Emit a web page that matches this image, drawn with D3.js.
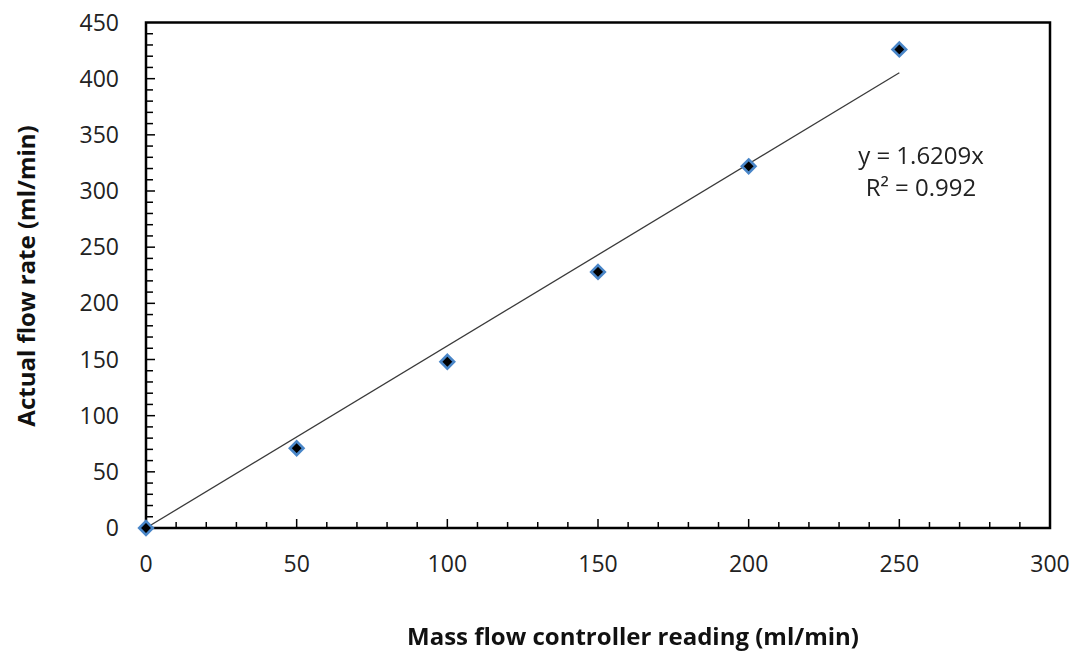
<!DOCTYPE html>
<html>
<head>
<meta charset="utf-8">
<script src="https://d3js.org/d3.v7.min.js"></script>
<style>
  html, body { margin: 0; padding: 0; background: #fff; }
  svg { display: block; font-family: "Open Sans", "Noto Sans", sans-serif; }
</style>
</head>
<body>
<svg id="chart" width="1081" height="655"></svg>
<script>
// Calibration readings: controller setpoint vs. measured flow
const controllerReading = [0, 50, 100, 150, 200, 250];
const actualFlow = [0, 71, 148, 228, 322, 426];

// Linear fit through the origin
const slope = 1.6209;
const rSquared = 0.992;

const xTicks = [0, 50, 100, 150, 200, 250, 300];
const yTicks = [0, 50, 100, 150, 200, 250, 300, 350, 400, 450];

const svg = d3.select("#chart");
const margin = { left: 146, right: 31, top: 22.5, bottom: 127 };
const W = 1081, H = 655;

const x = d3.scaleLinear().domain([0, 300]).range([margin.left, W - margin.right]);
const y = d3.scaleLinear().domain([0, 450]).range([H - margin.bottom, margin.top]);

const defs = svg.append("defs");
defs.append("filter").attr("id", "soft")
  .append("feGaussianBlur").attr("stdDeviation", 0.7);

// Minor ticks every 10 units, drawn inside the plot frame
const minorX = d3.range(10, 300, 10);
const minorY = d3.range(10, 450, 10);

svg.append("g").selectAll("line").data(minorX).join("line")
  .attr("x1", d => x(d)).attr("x2", d => x(d))
  .attr("y1", y(0)).attr("y2", d => y(0) - (d % 50 === 0 ? 9 : 6))
  .attr("stroke", "#000").attr("stroke-width", 1.5);

svg.append("g").selectAll("line").data(minorY).join("line")
  .attr("y1", d => y(d)).attr("y2", d => y(d))
  .attr("x1", x(0)).attr("x2", d => x(0) + (d % 50 === 0 ? 9 : 7))
  .attr("stroke", "#000").attr("stroke-width", 1.5);

// Plot frame
svg.append("rect")
  .attr("x", x(0)).attr("y", y(450))
  .attr("width", x(300) - x(0)).attr("height", y(0) - y(450))
  .attr("fill", "none").attr("stroke", "#000").attr("stroke-width", 2.5);

// Tick labels
svg.append("g").selectAll("text").data(xTicks).join("text")
  .attr("x", d => x(d)).attr("y", y(0) + 44)
  .attr("text-anchor", "middle")
  .attr("font-size", 23).attr("fill", "#222")
  .text(d => d);

svg.append("g").selectAll("text").data(yTicks).join("text")
  .attr("x", x(0) - 27).attr("y", d => y(d) + 8)
  .attr("text-anchor", "end")
  .attr("font-size", 23).attr("fill", "#222")
  .text(d => d);

// Trendline
svg.append("line")
  .attr("x1", x(0)).attr("y1", y(0))
  .attr("x2", x(250)).attr("y2", y(slope * 250))
  .attr("stroke", "#3a3a3a").attr("stroke-width", 1.3);

// Data markers: black diamonds with blue outline
const r = 6.8;
const diamond = `M0,${-r}L${r},0L0,${r}L${-r},0Z`;
svg.append("g").attr("filter", "url(#soft)")
  .selectAll("path").data(controllerReading.map((v, i) => [v, actualFlow[i]])).join("path")
  .attr("d", diamond)
  .attr("transform", d => `translate(${x(d[0])},${y(d[1])})`)
  .attr("fill", "#000").attr("stroke", "#4a86c8").attr("stroke-width", 2.6);

// Fit equation
const eq = svg.append("g").attr("font-size", 24).attr("fill", "#222").attr("text-anchor", "middle");
eq.append("text").attr("x", 921).attr("y", 164).text(`y = ${slope}x`);
eq.append("text").attr("x", 921).attr("y", 196).text(`R² = ${rSquared}`);

// Axis titles
svg.append("text")
  .attr("x", 633).attr("y", 645)
  .attr("text-anchor", "middle")
  .attr("font-size", 24).attr("font-weight", "bold").attr("fill", "#111")
  .text("Mass flow controller reading (ml/min)");

svg.append("text")
  .attr("transform", "translate(35,276) rotate(-90)")
  .attr("text-anchor", "middle")
  .attr("font-size", 24).attr("font-weight", "bold").attr("fill", "#111")
  .text("Actual flow rate (ml/min)");
</script>
</body>
</html>
